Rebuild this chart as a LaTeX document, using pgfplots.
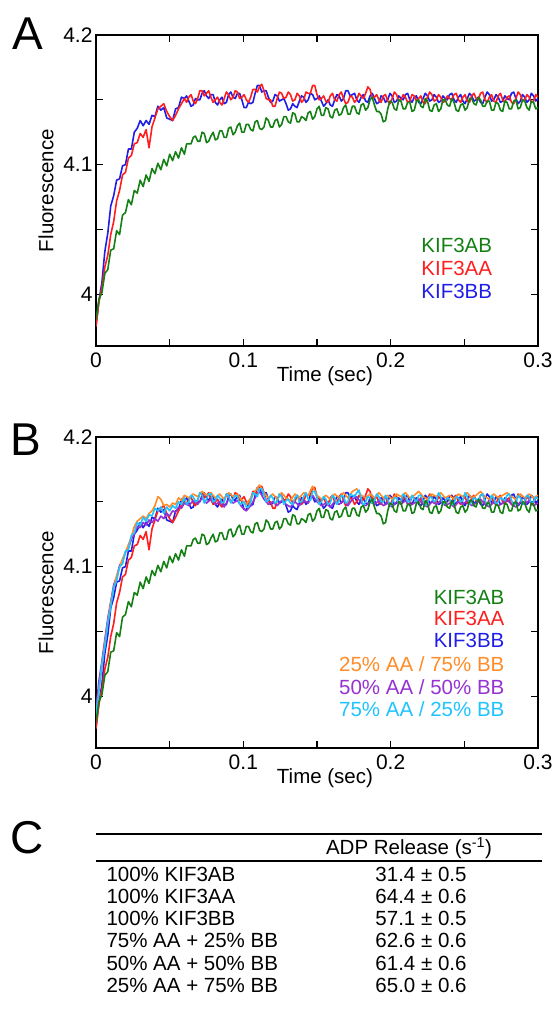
\documentclass[border=0pt]{standalone}
\usepackage{fontspec}
\setmainfont{Liberation Sans}
\usepackage{pgfplots}
\usepackage{pgfplotstable}
\pgfplotsset{compat=1.18}

\definecolor{kgreen}{RGB}{20,128,20}
\definecolor{kred}{RGB}{255,30,30}
\definecolor{kblue}{RGB}{30,30,230}
\definecolor{korange}{RGB}{255,140,40}
\definecolor{kpurple}{RGB}{150,50,210}
\definecolor{kcyan}{RGB}{30,195,255}

% stopped-flow traces
\pgfplotstableread[row sep=\\]{
t y\\
0 3.976\\ 0.002 3.995\\ 0.004 4.009\\ 0.006 4.033\\ 0.008 4.047\\ 0.010 4.068\\ 0.012 4.076\\ 0.014 4.088\\
0.016 4.089\\ 0.018 4.099\\ 0.020 4.100\\ 0.022 4.112\\ 0.024 4.112\\ 0.026 4.125\\ 0.028 4.128\\ 0.030 4.134\\
0.032 4.130\\ 0.034 4.134\\ 0.036 4.131\\ 0.038 4.138\\ 0.040 4.137\\ 0.042 4.145\\ 0.044 4.142\\ 0.046 4.144\\
0.048 4.136\\ 0.050 4.135\\ 0.052 4.134\\ 0.054 4.143\\ 0.056 4.144\\ 0.058 4.152\\ 0.060 4.151\\
0.0615 4.153\\ 0.063 4.149\\ 0.0645 4.145\\ 0.066 4.146\\ 0.0675 4.151\\ 0.069 4.150\\ 0.0705 4.150\\ 0.072 4.155\\
0.0735 4.157\\ 0.075 4.153\\ 0.0765 4.151\\ 0.078 4.154\\ 0.0795 4.154\\ 0.081 4.148\\ 0.0825 4.146\\ 0.084 4.150\\
0.0855 4.152\\ 0.087 4.147\\ 0.0885 4.148\\ 0.090 4.154\\ 0.0915 4.156\\ 0.093 4.152\\ 0.0945 4.151\\ 0.096 4.155\\
0.0975 4.155\\ 0.099 4.150\\ 0.1005 4.144\\ 0.102 4.144\\ 0.1035 4.148\\ 0.105 4.147\\ 0.1065 4.148\\ 0.108 4.155\\
0.1095 4.161\\ 0.111 4.161\\ 0.1125 4.156\\ 0.114 4.157\\ 0.1155 4.157\\ 0.117 4.152\\ 0.1185 4.148\\ 0.120 4.149\\
0.1215 4.154\\ 0.123 4.153\\ 0.1245 4.149\\ 0.126 4.150\\ 0.1275 4.151\\ 0.129 4.147\\ 0.1305 4.142\\ 0.132 4.143\\
0.1335 4.147\\ 0.135 4.145\\ 0.1365 4.144\\ 0.138 4.149\\ 0.1395 4.153\\ 0.141 4.152\\ 0.1425 4.148\\ 0.144 4.150\\
0.1455 4.155\\ 0.147 4.154\\ 0.1485 4.150\\ 0.150 4.151\\ 0.1515 4.153\\ 0.153 4.149\\ 0.1545 4.145\\ 0.156 4.147\\
0.1575 4.150\\ 0.159 4.146\\ 0.1605 4.145\\ 0.162 4.150\\ 0.1635 4.154\\ 0.165 4.153\\ 0.1665 4.149\\ 0.168 4.151\\
0.1695 4.157\\ 0.171 4.157\\ 0.1725 4.153\\ 0.174 4.154\\ 0.1755 4.155\\ 0.177 4.150\\ 0.1785 4.148\\ 0.180 4.152\\
0.1815 4.154\\ 0.183 4.149\\ 0.1845 4.148\\ 0.186 4.153\\ 0.1875 4.155\\ 0.189 4.151\\ 0.1905 4.147\\ 0.192 4.148\\
0.1935 4.153\\ 0.195 4.152\\ 0.1965 4.148\\ 0.198 4.150\\ 0.1995 4.155\\ 0.201 4.153\\ 0.2025 4.148\\ 0.204 4.149\\
0.2055 4.153\\ 0.207 4.151\\ 0.2085 4.150\\ 0.210 4.154\\ 0.2115 4.155\\ 0.213 4.150\\ 0.2145 4.148\\ 0.216 4.152\\
0.2175 4.153\\ 0.219 4.148\\ 0.2205 4.147\\ 0.222 4.151\\ 0.2235 4.155\\ 0.225 4.153\\ 0.2265 4.149\\ 0.228 4.150\\
0.2295 4.154\\ 0.231 4.152\\ 0.2325 4.148\\ 0.234 4.149\\ 0.2355 4.153\\ 0.237 4.151\\ 0.2385 4.150\\ 0.240 4.154\\
0.2415 4.155\\ 0.243 4.150\\ 0.2445 4.148\\ 0.246 4.152\\ 0.2475 4.154\\ 0.249 4.149\\ 0.2505 4.147\\ 0.252 4.151\\
0.2535 4.155\\ 0.255 4.153\\ 0.2565 4.149\\ 0.258 4.150\\ 0.2595 4.152\\ 0.261 4.148\\ 0.2625 4.147\\ 0.264 4.152\\
0.2655 4.156\\ 0.267 4.154\\ 0.2685 4.149\\ 0.270 4.150\\ 0.2715 4.154\\ 0.273 4.152\\ 0.2745 4.148\\ 0.276 4.149\\
0.2775 4.153\\ 0.279 4.151\\ 0.2805 4.150\\ 0.282 4.155\\ 0.2835 4.156\\ 0.285 4.151\\ 0.2865 4.147\\ 0.288 4.149\\
0.2895 4.154\\ 0.291 4.152\\ 0.2925 4.148\\ 0.294 4.150\\ 0.2955 4.155\\ 0.297 4.153\\ 0.2985 4.149\\ 0.300 4.151\\
}\tblblue

\pgfplotstableread[row sep=\\]{
t y\\
0 3.975\\ 0.002 3.994\\ 0.004 4.005\\ 0.006 4.021\\ 0.008 4.030\\ 0.010 4.046\\ 0.012 4.056\\ 0.014 4.072\\
0.016 4.080\\ 0.018 4.092\\ 0.020 4.094\\ 0.022 4.105\\ 0.024 4.107\\ 0.026 4.116\\ 0.028 4.117\\ 0.030 4.124\\
0.032 4.121\\ 0.034 4.127\\ 0.036 4.113\\ 0.038 4.129\\ 0.040 4.136\\ 0.042 4.143\\ 0.044 4.145\\ 0.046 4.147\\
0.048 4.141\\ 0.050 4.137\\ 0.052 4.134\\ 0.054 4.138\\ 0.056 4.143\\ 0.058 4.147\\ 0.060 4.151\\
0.0615 4.148\\ 0.063 4.152\\ 0.0645 4.154\\ 0.066 4.149\\ 0.0675 4.147\\ 0.069 4.151\\ 0.0705 4.157\\ 0.072 4.157\\
0.0735 4.153\\ 0.075 4.155\\ 0.0765 4.157\\ 0.078 4.152\\ 0.0795 4.148\\ 0.081 4.150\\ 0.0825 4.152\\ 0.084 4.148\\
0.0855 4.146\\ 0.087 4.151\\ 0.0885 4.156\\ 0.090 4.154\\ 0.0915 4.150\\ 0.093 4.152\\ 0.0945 4.157\\ 0.096 4.156\\
0.0975 4.151\\ 0.099 4.152\\ 0.1005 4.154\\ 0.102 4.150\\ 0.1035 4.148\\ 0.105 4.152\\ 0.1065 4.158\\ 0.108 4.158\\
0.1095 4.156\\ 0.111 4.160\\ 0.1125 4.162\\ 0.114 4.157\\ 0.1155 4.151\\ 0.117 4.150\\ 0.1185 4.150\\ 0.120 4.145\\
0.1215 4.145\\ 0.123 4.151\\ 0.1245 4.156\\ 0.126 4.155\\ 0.1275 4.151\\ 0.129 4.152\\ 0.1305 4.156\\ 0.132 4.154\\
0.1335 4.149\\ 0.135 4.150\\ 0.1365 4.155\\ 0.138 4.153\\ 0.1395 4.148\\ 0.141 4.150\\ 0.1425 4.156\\ 0.144 4.155\\
0.1455 4.155\\ 0.147 4.161\\ 0.1485 4.161\\ 0.150 4.154\\ 0.1515 4.150\\ 0.153 4.151\\ 0.1545 4.153\\ 0.156 4.149\\
0.1575 4.148\\ 0.159 4.153\\ 0.1605 4.155\\ 0.162 4.150\\ 0.1635 4.149\\ 0.165 4.154\\ 0.1665 4.156\\ 0.168 4.151\\
0.1695 4.147\\ 0.171 4.148\\ 0.1725 4.153\\ 0.174 4.152\\ 0.1755 4.148\\ 0.177 4.150\\ 0.1785 4.155\\ 0.180 4.153\\
0.1815 4.151\\ 0.183 4.155\\ 0.1845 4.160\\ 0.186 4.158\\ 0.1875 4.152\\ 0.189 4.152\\ 0.1905 4.154\\ 0.192 4.150\\
0.1935 4.148\\ 0.195 4.153\\ 0.1965 4.154\\ 0.198 4.149\\ 0.1995 4.147\\ 0.201 4.151\\ 0.2025 4.156\\ 0.204 4.154\\
0.2055 4.149\\ 0.207 4.150\\ 0.2085 4.154\\ 0.210 4.152\\ 0.2115 4.148\\ 0.213 4.149\\ 0.2145 4.154\\ 0.216 4.153\\
0.2175 4.149\\ 0.219 4.151\\ 0.2205 4.153\\ 0.222 4.148\\ 0.2235 4.147\\ 0.225 4.152\\ 0.2265 4.156\\ 0.228 4.154\\
0.2295 4.149\\ 0.231 4.150\\ 0.2325 4.154\\ 0.234 4.152\\ 0.2355 4.148\\ 0.237 4.149\\ 0.2385 4.153\\ 0.240 4.151\\
0.2415 4.150\\ 0.243 4.154\\ 0.2445 4.155\\ 0.246 4.150\\ 0.2475 4.148\\ 0.249 4.152\\ 0.2505 4.154\\ 0.252 4.149\\
0.2535 4.148\\ 0.255 4.153\\ 0.2565 4.155\\ 0.258 4.151\\ 0.2595 4.150\\ 0.261 4.155\\ 0.2625 4.156\\ 0.264 4.150\\
0.2655 4.148\\ 0.267 4.152\\ 0.2685 4.154\\ 0.270 4.149\\ 0.2715 4.148\\ 0.273 4.153\\ 0.2745 4.155\\ 0.276 4.150\\
0.2775 4.148\\ 0.279 4.152\\ 0.2805 4.153\\ 0.282 4.148\\ 0.2835 4.147\\ 0.285 4.151\\ 0.2865 4.156\\ 0.288 4.154\\
0.2895 4.149\\ 0.291 4.150\\ 0.2925 4.154\\ 0.294 4.152\\ 0.2955 4.148\\ 0.297 4.149\\ 0.2985 4.154\\ 0.300 4.152\\
}\tblred

\pgfplotstableread[row sep=\\]{
t y\\
0 3.980\\ 0.002 3.996\\ 0.004 4.001\\ 0.006 4.016\\ 0.008 4.019\\ 0.010 4.034\\ 0.012 4.035\\ 0.014 4.049\\
0.016 4.046\\ 0.018 4.061\\ 0.020 4.063\\ 0.022 4.073\\ 0.024 4.069\\ 0.026 4.080\\ 0.028 4.078\\ 0.030 4.088\\
0.032 4.083\\ 0.034 4.092\\ 0.036 4.087\\ 0.038 4.097\\ 0.040 4.093\\ 0.042 4.101\\ 0.044 4.096\\ 0.046 4.104\\
0.048 4.099\\ 0.050 4.108\\ 0.052 4.103\\ 0.054 4.110\\ 0.056 4.105\\ 0.058 4.113\\ 0.060 4.108\\
0.0615 4.116\\ 0.063 4.116\\ 0.0645 4.116\\ 0.066 4.121\\ 0.0675 4.122\\ 0.069 4.118\\ 0.0705 4.118\\ 0.072 4.125\\
0.0735 4.124\\ 0.075 4.117\\ 0.0765 4.118\\ 0.078 4.122\\ 0.0795 4.125\\ 0.081 4.119\\ 0.0825 4.120\\ 0.084 4.126\\
0.0855 4.126\\ 0.087 4.121\\ 0.0885 4.121\\ 0.090 4.128\\ 0.0915 4.129\\ 0.093 4.123\\ 0.0945 4.125\\ 0.096 4.130\\
0.0975 4.132\\ 0.099 4.125\\ 0.1005 4.125\\ 0.102 4.131\\ 0.1035 4.131\\ 0.105 4.127\\ 0.1065 4.126\\ 0.108 4.133\\
0.1095 4.134\\ 0.111 4.128\\ 0.1125 4.127\\ 0.114 4.129\\ 0.1155 4.136\\ 0.117 4.134\\ 0.1185 4.129\\ 0.120 4.129\\
0.1215 4.134\\ 0.123 4.135\\ 0.1245 4.129\\ 0.126 4.131\\ 0.1275 4.137\\ 0.129 4.137\\ 0.1305 4.133\\ 0.132 4.132\\
0.1335 4.140\\ 0.135 4.139\\ 0.1365 4.133\\ 0.138 4.133\\ 0.1395 4.137\\ 0.141 4.136\\ 0.1425 4.134\\ 0.144 4.140\\
0.1455 4.141\\ 0.147 4.135\\ 0.1485 4.137\\ 0.150 4.143\\ 0.1515 4.145\\ 0.153 4.138\\ 0.1545 4.138\\ 0.156 4.144\\
0.1575 4.143\\ 0.159 4.137\\ 0.1605 4.136\\ 0.162 4.142\\ 0.1635 4.143\\ 0.165 4.138\\ 0.1665 4.139\\ 0.168 4.144\\
0.1695 4.146\\ 0.171 4.139\\ 0.1725 4.139\\ 0.174 4.145\\ 0.1755 4.145\\ 0.177 4.140\\ 0.1785 4.139\\ 0.180 4.146\\
0.1815 4.147\\ 0.183 4.142\\ 0.1845 4.144\\ 0.186 4.150\\ 0.1875 4.152\\ 0.189 4.146\\ 0.1905 4.141\\ 0.192 4.141\\
0.1935 4.139\\ 0.195 4.133\\ 0.1965 4.134\\ 0.198 4.143\\ 0.1995 4.149\\ 0.201 4.148\\ 0.2025 4.143\\ 0.204 4.142\\
0.2055 4.150\\ 0.207 4.149\\ 0.2085 4.143\\ 0.210 4.143\\ 0.2115 4.148\\ 0.213 4.148\\ 0.2145 4.141\\ 0.216 4.142\\
0.2175 4.149\\ 0.219 4.150\\ 0.2205 4.145\\ 0.222 4.144\\ 0.2235 4.151\\ 0.225 4.149\\ 0.2265 4.142\\ 0.228 4.141\\
0.2295 4.146\\ 0.231 4.147\\ 0.2325 4.141\\ 0.234 4.143\\ 0.2355 4.150\\ 0.237 4.150\\ 0.2385 4.146\\ 0.240 4.145\\
0.2415 4.151\\ 0.243 4.148\\ 0.2445 4.142\\ 0.246 4.141\\ 0.2475 4.146\\ 0.249 4.147\\ 0.2505 4.142\\ 0.252 4.144\\
0.2535 4.151\\ 0.255 4.151\\ 0.2565 4.147\\ 0.258 4.146\\ 0.2595 4.152\\ 0.261 4.150\\ 0.2625 4.145\\ 0.264 4.145\\
0.2655 4.149\\ 0.267 4.149\\ 0.2685 4.142\\ 0.270 4.142\\ 0.2715 4.148\\ 0.273 4.147\\ 0.2745 4.142\\ 0.276 4.141\\
0.2775 4.149\\ 0.279 4.148\\ 0.2805 4.143\\ 0.282 4.143\\ 0.2835 4.149\\ 0.285 4.150\\ 0.2865 4.143\\ 0.288 4.144\\
0.2895 4.150\\ 0.291 4.149\\ 0.2925 4.144\\ 0.294 4.142\\ 0.2955 4.149\\ 0.297 4.148\\ 0.2985 4.143\\ 0.300 4.144\\
}\tblgreen

\pgfplotstableread[row sep=\\]{
t y\\
0 3.985\\ 0.002 4.004\\ 0.004 4.025\\ 0.006 4.038\\ 0.008 4.057\\ 0.010 4.069\\ 0.012 4.084\\ 0.014 4.089\\
0.016 4.100\\ 0.018 4.102\\ 0.020 4.112\\ 0.022 4.113\\ 0.024 4.124\\ 0.026 4.126\\ 0.028 4.134\\ 0.030 4.132\\
0.032 4.138\\ 0.034 4.135\\ 0.036 4.140\\ 0.038 4.139\\ 0.040 4.145\\ 0.042 4.143\\ 0.044 4.146\\ 0.046 4.141\\
0.048 4.146\\ 0.050 4.143\\ 0.052 4.147\\ 0.054 4.145\\ 0.056 4.150\\ 0.058 4.148\\ 0.060 4.153\\
0.0615 4.148\\ 0.063 4.150\\ 0.0645 4.155\\ 0.066 4.154\\ 0.0675 4.150\\ 0.069 4.151\\ 0.0705 4.157\\ 0.072 4.155\\
0.0735 4.149\\ 0.075 4.152\\ 0.0765 4.156\\ 0.078 4.156\\ 0.0795 4.150\\ 0.081 4.151\\ 0.0825 4.155\\ 0.084 4.153\\
0.0855 4.149\\ 0.087 4.150\\ 0.0885 4.156\\ 0.090 4.155\\ 0.0915 4.149\\ 0.093 4.152\\ 0.0945 4.155\\ 0.096 4.154\\
0.0975 4.148\\ 0.099 4.149\\ 0.1005 4.150\\ 0.102 4.146\\ 0.1035 4.146\\ 0.105 4.150\\ 0.1065 4.157\\ 0.108 4.156\\
0.1095 4.154\\ 0.111 4.160\\ 0.1125 4.160\\ 0.114 4.155\\ 0.1155 4.150\\ 0.117 4.151\\ 0.1185 4.155\\ 0.120 4.153\\
0.1215 4.149\\ 0.123 4.150\\ 0.1245 4.156\\ 0.126 4.154\\ 0.1275 4.148\\ 0.129 4.151\\ 0.1305 4.152\\ 0.132 4.149\\
0.1335 4.148\\ 0.135 4.153\\ 0.1365 4.155\\ 0.138 4.150\\ 0.1395 4.150\\ 0.141 4.154\\ 0.1425 4.157\\ 0.144 4.152\\
0.1455 4.151\\ 0.147 4.158\\ 0.1485 4.158\\ 0.150 4.153\\ 0.1515 4.148\\ 0.153 4.150\\ 0.1545 4.154\\ 0.156 4.152\\
0.1575 4.148\\ 0.159 4.149\\ 0.1605 4.155\\ 0.162 4.153\\ 0.1635 4.148\\ 0.165 4.151\\ 0.1665 4.155\\ 0.168 4.154\\
0.1695 4.149\\ 0.171 4.150\\ 0.1725 4.156\\ 0.174 4.155\\ 0.1755 4.154\\ 0.177 4.157\\ 0.1785 4.159\\ 0.180 4.152\\
0.1815 4.147\\ 0.183 4.150\\ 0.1845 4.154\\ 0.186 4.153\\ 0.1875 4.149\\ 0.189 4.151\\ 0.1905 4.156\\ 0.192 4.154\\
0.1935 4.150\\ 0.195 4.150\\ 0.1965 4.155\\ 0.198 4.152\\ 0.1995 4.147\\ 0.201 4.149\\ 0.2025 4.153\\ 0.204 4.153\\
0.2055 4.149\\ 0.207 4.151\\ 0.2085 4.156\\ 0.210 4.154\\ 0.2115 4.150\\ 0.213 4.150\\ 0.2145 4.155\\ 0.216 4.152\\
0.2175 4.150\\ 0.219 4.155\\ 0.2205 4.155\\ 0.222 4.151\\ 0.2235 4.147\\ 0.225 4.149\\ 0.2265 4.154\\ 0.228 4.153\\
0.2295 4.150\\ 0.231 4.151\\ 0.2325 4.157\\ 0.234 4.154\\ 0.2355 4.148\\ 0.237 4.150\\ 0.2385 4.153\\ 0.240 4.152\\
0.2415 4.148\\ 0.243 4.149\\ 0.2445 4.154\\ 0.246 4.153\\ 0.2475 4.150\\ 0.249 4.151\\ 0.2505 4.157\\ 0.252 4.154\\
0.2535 4.148\\ 0.255 4.150\\ 0.2565 4.153\\ 0.258 4.152\\ 0.2595 4.151\\ 0.261 4.155\\ 0.2625 4.156\\ 0.264 4.151\\
0.2655 4.148\\ 0.267 4.149\\ 0.2685 4.155\\ 0.270 4.153\\ 0.2715 4.148\\ 0.273 4.150\\ 0.2745 4.153\\ 0.276 4.152\\
0.2775 4.151\\ 0.279 4.155\\ 0.2805 4.156\\ 0.282 4.151\\ 0.2835 4.148\\ 0.285 4.149\\ 0.2865 4.155\\ 0.288 4.153\\
0.2895 4.148\\ 0.291 4.151\\ 0.2925 4.155\\ 0.294 4.154\\ 0.2955 4.149\\ 0.297 4.150\\ 0.2985 4.154\\ 0.300 4.152\\
}\tblcyan

\pgfplotstableread[row sep=\\]{
t y\\
0 3.984\\ 0.002 4.005\\ 0.004 4.022\\ 0.006 4.041\\ 0.008 4.056\\ 0.010 4.072\\ 0.012 4.083\\ 0.014 4.093\\
0.016 4.099\\ 0.018 4.106\\ 0.020 4.111\\ 0.022 4.117\\ 0.024 4.123\\ 0.026 4.131\\ 0.028 4.135\\ 0.030 4.137\\
0.032 4.139\\ 0.034 4.137\\ 0.036 4.141\\ 0.038 4.143\\ 0.040 4.147\\ 0.042 4.154\\ 0.044 4.152\\ 0.046 4.147\\
0.048 4.148\\ 0.050 4.146\\ 0.052 4.149\\ 0.054 4.148\\ 0.056 4.153\\ 0.058 4.151\\ 0.060 4.155\\
0.063 4.153\\ 0.066 4.156\\ 0.069 4.154\\ 0.072 4.158\\ 0.075 4.155\\ 0.078 4.157\\ 0.081 4.153\\ 0.084 4.156\\
0.087 4.152\\ 0.090 4.157\\ 0.093 4.154\\ 0.096 4.156\\ 0.099 4.151\\ 0.102 4.148\\ 0.105 4.153\\ 0.108 4.158\\
0.111 4.163\\ 0.114 4.157\\ 0.117 4.153\\ 0.120 4.156\\ 0.123 4.152\\ 0.126 4.157\\ 0.129 4.153\\ 0.132 4.151\\
0.135 4.156\\ 0.138 4.153\\ 0.141 4.157\\ 0.144 4.155\\ 0.147 4.162\\ 0.150 4.155\\ 0.153 4.152\\ 0.156 4.155\\
0.159 4.152\\ 0.162 4.156\\ 0.165 4.153\\ 0.168 4.157\\ 0.171 4.153\\ 0.174 4.158\\ 0.177 4.160\\ 0.180 4.155\\
0.183 4.153\\ 0.186 4.156\\ 0.189 4.153\\ 0.192 4.157\\ 0.195 4.153\\ 0.198 4.155\\ 0.201 4.152\\ 0.204 4.156\\
0.207 4.154\\ 0.210 4.157\\ 0.213 4.153\\ 0.216 4.155\\ 0.219 4.158\\ 0.222 4.154\\ 0.225 4.152\\ 0.228 4.156\\
0.231 4.154\\ 0.234 4.157\\ 0.237 4.153\\ 0.240 4.155\\ 0.243 4.152\\ 0.246 4.156\\ 0.249 4.154\\ 0.252 4.157\\
0.255 4.153\\ 0.258 4.155\\ 0.261 4.158\\ 0.264 4.154\\ 0.267 4.152\\ 0.270 4.156\\ 0.273 4.153\\ 0.276 4.155\\
0.279 4.157\\ 0.282 4.154\\ 0.285 4.152\\ 0.288 4.156\\ 0.291 4.153\\ 0.294 4.156\\ 0.297 4.153\\ 0.300 4.155\\
}\tblorange

\pgfplotstableread[row sep=\\]{
t y\\
0 3.990\\ 0.002 4.012\\ 0.004 4.027\\ 0.006 4.044\\ 0.008 4.060\\ 0.010 4.073\\ 0.012 4.086\\ 0.014 4.092\\
0.016 4.101\\ 0.018 4.104\\ 0.020 4.111\\ 0.022 4.114\\ 0.024 4.121\\ 0.026 4.125\\ 0.028 4.131\\ 0.030 4.130\\
0.032 4.134\\ 0.034 4.132\\ 0.036 4.136\\ 0.038 4.134\\ 0.040 4.137\\ 0.042 4.135\\ 0.044 4.139\\ 0.046 4.137\\
0.048 4.141\\ 0.050 4.139\\ 0.052 4.143\\ 0.054 4.142\\ 0.056 4.146\\ 0.058 4.145\\ 0.060 4.149\\
0.063 4.147\\ 0.066 4.151\\ 0.069 4.148\\ 0.072 4.153\\ 0.075 4.149\\ 0.078 4.152\\ 0.081 4.148\\ 0.084 4.150\\
0.087 4.146\\ 0.090 4.152\\ 0.093 4.149\\ 0.096 4.151\\ 0.099 4.146\\ 0.102 4.143\\ 0.105 4.147\\ 0.108 4.153\\
0.111 4.158\\ 0.114 4.152\\ 0.117 4.148\\ 0.120 4.150\\ 0.123 4.147\\ 0.126 4.151\\ 0.129 4.148\\ 0.132 4.146\\
0.135 4.150\\ 0.138 4.147\\ 0.141 4.151\\ 0.144 4.149\\ 0.147 4.155\\ 0.150 4.150\\ 0.153 4.147\\ 0.156 4.149\\
0.159 4.146\\ 0.162 4.150\\ 0.165 4.148\\ 0.168 4.151\\ 0.171 4.147\\ 0.174 4.152\\ 0.177 4.154\\ 0.180 4.149\\
0.183 4.147\\ 0.186 4.150\\ 0.189 4.148\\ 0.192 4.151\\ 0.195 4.147\\ 0.198 4.149\\ 0.201 4.146\\ 0.204 4.150\\
0.207 4.148\\ 0.210 4.151\\ 0.213 4.147\\ 0.216 4.149\\ 0.219 4.152\\ 0.222 4.148\\ 0.225 4.146\\ 0.228 4.150\\
0.231 4.148\\ 0.234 4.151\\ 0.237 4.147\\ 0.240 4.149\\ 0.243 4.146\\ 0.246 4.150\\ 0.249 4.148\\ 0.252 4.151\\
0.255 4.147\\ 0.258 4.149\\ 0.261 4.152\\ 0.264 4.148\\ 0.267 4.146\\ 0.270 4.150\\ 0.273 4.147\\ 0.276 4.149\\
0.279 4.152\\ 0.282 4.148\\ 0.285 4.146\\ 0.288 4.150\\ 0.291 4.148\\ 0.294 4.151\\ 0.297 4.147\\ 0.300 4.149\\
}\tblpurple

\newcommand{\fs}{\fontsize{20.5}{24}\selectfont}
\newcommand{\ft}{\fontsize{21}{24}\selectfont}

\pgfplotsset{
  trace/.style={
    scale only axis, width=442pt, height=311pt,
    xmin=0, xmax=0.3, ymin=3.96, ymax=4.2,
    xtick={0,0.1,0.2,0.3}, minor xtick={0.05,0.15,0.25},
    ytick={4,4.1,4.2}, minor ytick={4.05,4.15},
    tick align=inside, major tick length=7pt, minor tick length=7pt,
    axis line style={line width=1.3pt},
    every tick/.style={black, line width=1.3pt},
    /pgf/number format/assume math mode=true,
    tick label style={font=\ft},
    xticklabel style={yshift=-3pt},
    xlabel={Time (sec)}, ylabel={Fluorescence},
    label style={font=\fs},
    xlabel style={at={(axis description cs:0.518,-0.097)}, anchor=center},
    ylabel style={at={(axis description cs:-0.113,0.5)}, anchor=center},
    clip=true,
  },
  every axis plot/.append style={line width=1.6pt, line join=round},
}

\begin{document}
\begin{tikzpicture}
\useasboundingbox (0pt,0pt) rectangle (558pt,-1012pt);

\node[font=\fontsize{46}{50}\selectfont] at (28pt,-34pt) {A};
\node[font=\fontsize{46}{50}\selectfont] at (26pt,-440pt) {B};
\node[font=\fontsize{46}{50}\selectfont] at (27pt,-838pt) {C};

\begin{axis}[trace, at={(96pt,-346pt)}, anchor=south west]
\addplot[kblue] table[x=t,y=y] {\tblblue};
\addplot[kred] table[x=t,y=y] {\tblred};
\addplot[kgreen] table[x=t,y=y] {\tblgreen};
\node[anchor=mid east, text=kgreen, font=\fs] at (rel axis cs:0.904,0.309) {KIF3AB};
\node[anchor=mid east, text=kred, font=\fs] at (rel axis cs:0.904,0.235) {KIF3AA};
\node[anchor=mid east, text=kblue, font=\fs] at (rel axis cs:0.904,0.161) {KIF3BB};
\end{axis}

\begin{axis}[trace, at={(96pt,-748pt)}, anchor=south west]
\addplot[kblue] table[x=t,y=y] {\tblblue};
\addplot[kred] table[x=t,y=y] {\tblred};
\addplot[kpurple] table[x=t,y=y] {\tblpurple};
\addplot[korange] table[x=t,y=y] {\tblorange};
\addplot[kcyan] table[x=t,y=y] {\tblcyan};
\addplot[kgreen] table[x=t,y=y] {\tblgreen};
\node[anchor=mid east, text=kgreen, font=\fs] at (rel axis cs:0.932,0.470) {KIF3AB};
\node[anchor=mid east, text=kred, font=\fs] at (rel axis cs:0.932,0.402) {KIF3AA};
\node[anchor=mid east, text=kblue, font=\fs] at (rel axis cs:0.932,0.331) {KIF3BB};
\node[anchor=mid east, text=korange, font=\fs] at (rel axis cs:0.932,0.254) {25\% AA / 75\% BB};
\node[anchor=mid east, text=kpurple, font=\fs] at (rel axis cs:0.932,0.180) {50\% AA / 50\% BB};
\node[anchor=mid east, text=kcyan, font=\fs] at (rel axis cs:0.932,0.109) {75\% AA / 25\% BB};
\end{axis}

% table C
\draw[line width=1.3pt] (96pt,-834pt) -- (542pt,-834pt);
\draw[line width=1.3pt] (96pt,-861pt) -- (542pt,-861pt);
\node[font=\fs] at (409pt,-848pt) {ADP Release (s\textsuperscript{-1})};
\foreach \lab/\val [count=\i from 0] in {
  100\% KIF3AB/31.4 ± 0.5,
  100\% KIF3AA/64.4 ± 0.6,
  100\% KIF3BB/57.1 ± 0.5,
  75\% AA + 25\% BB/62.6 ± 0.6,
  50\% AA + 50\% BB/61.4 ± 0.6,
  25\% AA + 75\% BB/65.0 ± 0.6}{
  \node[font=\fs, anchor=west] at (103pt,-874pt-\i*22.3pt) {\lab};
  \node[font=\fs] at (421pt,-874pt-\i*22.3pt) {\val};
}
\end{tikzpicture}
\end{document}
